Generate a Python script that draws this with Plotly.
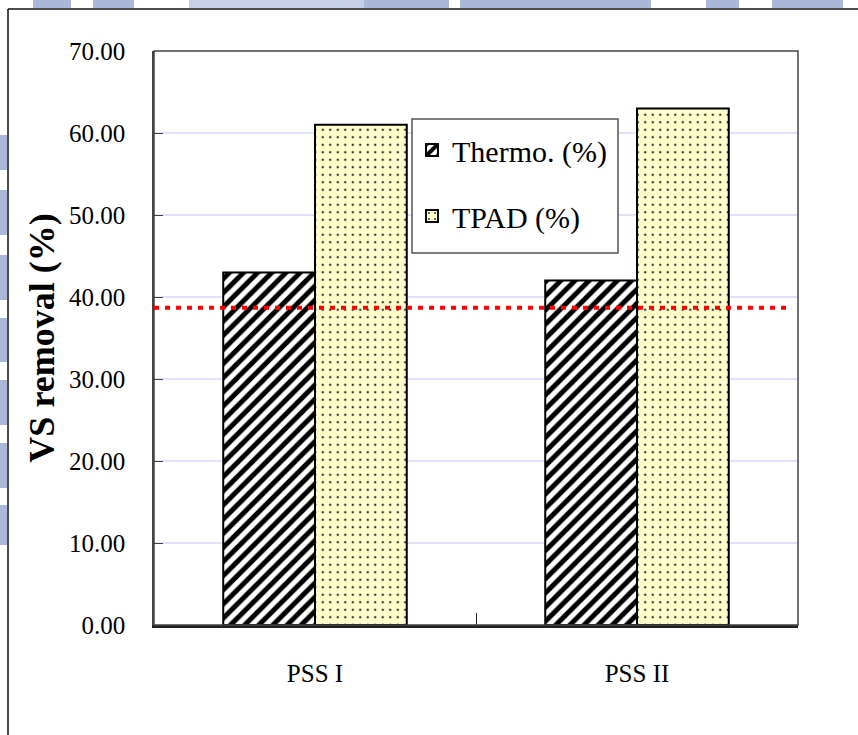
import plotly.graph_objects as go

categories = ["PSS I", "PSS II"]
thermo = [43.0, 42.0]
tpad = [61.0, 63.0]
reference_level = 38.7
series_names = ["Thermo. (%)", "TPAD (%)"]
y_ticks = [0, 10, 20, 30, 40, 50, 60, 70]

W, H = 858, 735
L, R, T, B = 154, 60, 51, 110
PW, PH = W - L - R, H - T - B

def px(x):
    return (x - L) / PW

def py(y):
    return (H - B - y) / PH

FONT = "Liberation Serif, Times New Roman, serif"

fig = go.Figure()
fig.add_trace(go.Bar(
    x=categories, y=thermo, name=series_names[0], legendgroup="a",
    marker=dict(color="white", line=dict(color="black", width=2),
                pattern=dict(shape="/", fgcolor="black", bgcolor="white",
                             fgopacity=1, size=10, solidity=0.5)),
))
fig.add_trace(go.Bar(
    x=categories, y=tpad, name=series_names[1], legendgroup="b",
    marker=dict(color="#ffffcc", line=dict(color="black", width=2),
                pattern=dict(shape=".", fgcolor="#333333", bgcolor="#ffffcc",
                             fgopacity=1, size=7.5, solidity=0.085)),
))

shapes = []
# watermark fragments above / left of the outer frame
wm = "#aab9da"
for x0, x1, c in [(33, 71, wm), (93, 134, wm), (189, 364, "#c5d0e8"),
                  (364, 449, wm), (460, 651, wm), (706, 739, wm), (772, 843, wm)]:
    shapes.append(dict(type="rect", xref="paper", yref="paper",
                       x0=px(x0), x1=px(x1), y0=py(8), y1=py(0),
                       fillcolor=c, line=dict(width=0), layer="below"))
for y0, y1 in [(135, 170), (190, 235), (255, 300), (318, 362), (380, 425),
               (443, 488), (505, 545)]:
    shapes.append(dict(type="rect", xref="paper", yref="paper",
                       x0=px(0), x1=px(7), y0=py(y1), y1=py(y0),
                       fillcolor=wm, line=dict(width=0), layer="below"))
# outer chart frame (top and left visible)
shapes.append(dict(type="line", xref="paper", yref="paper",
                   x0=px(8), x1=px(860), y0=py(9), y1=py(9),
                   line=dict(color="#111111", width=1.5)))
shapes.append(dict(type="line", xref="paper", yref="paper",
                   x0=px(8), x1=px(8), y0=py(9), y1=py(740),
                   line=dict(color="#111111", width=1.5)))
# plot-area frame
shapes.append(dict(type="rect", xref="paper", yref="paper",
                   x0=0, x1=1, y0=0, y1=1,
                   line=dict(color="#444444", width=1.5), layer="above"))
# reference level
shapes.append(dict(type="line", xref="paper", yref="y",
                   x0=0, x1=0.985, y0=reference_level, y1=reference_level,
                   line=dict(color="red", width=4, dash="5px,6px"), layer="above"))
# legend box
shapes.append(dict(type="rect", xref="paper", yref="paper",
                   x0=px(412), x1=px(618), y0=py(253), y1=py(119),
                   fillcolor="white", line=dict(color="#555555", width=1.5),
                   layer="above"))

fig.update_layout(
    width=W, height=H,
    margin=dict(l=L, r=R, t=T, b=B),
    paper_bgcolor="white", plot_bgcolor="white",
    barmode="group", bargap=0.43, bargroupgap=0,
    font=dict(family=FONT, color="black", size=22),
    showlegend=True,
    legend=dict(x=px(412), y=py(124), xanchor="left", yanchor="top",
                bgcolor="rgba(0,0,0,0)", borderwidth=0,
                font=dict(family=FONT, size=30, color="black"),
                traceorder="grouped", tracegroupgap=24,
                itemwidth=30),
    shapes=shapes,
    xaxis=dict(
        type="category", showgrid=False, showline=True, linecolor="#222222",
        linewidth=3, ticks="inside", tickson="boundaries", ticklen=12,
        tickcolor="#222222", tickfont=dict(family=FONT, size=25),
        ticklabelstandoff=24,
    ),
    yaxis=dict(
        range=[0, 70], tickvals=y_ticks, tickformat=".2f",
        showgrid=True, gridcolor="#e2e2f8", gridwidth=1.5,
        showline=True, linecolor="#444444", linewidth=1.5,
        ticks="inside", ticklen=9, tickcolor="#444444",
        tickfont=dict(family=FONT, size=25), ticklabelstandoff=22,
        zeroline=False,
        title=dict(text="<b>VS removal (%)</b>",
                   font=dict(family=FONT, size=36), standoff=3),
    ),
)

fig.write_html("out.html")
